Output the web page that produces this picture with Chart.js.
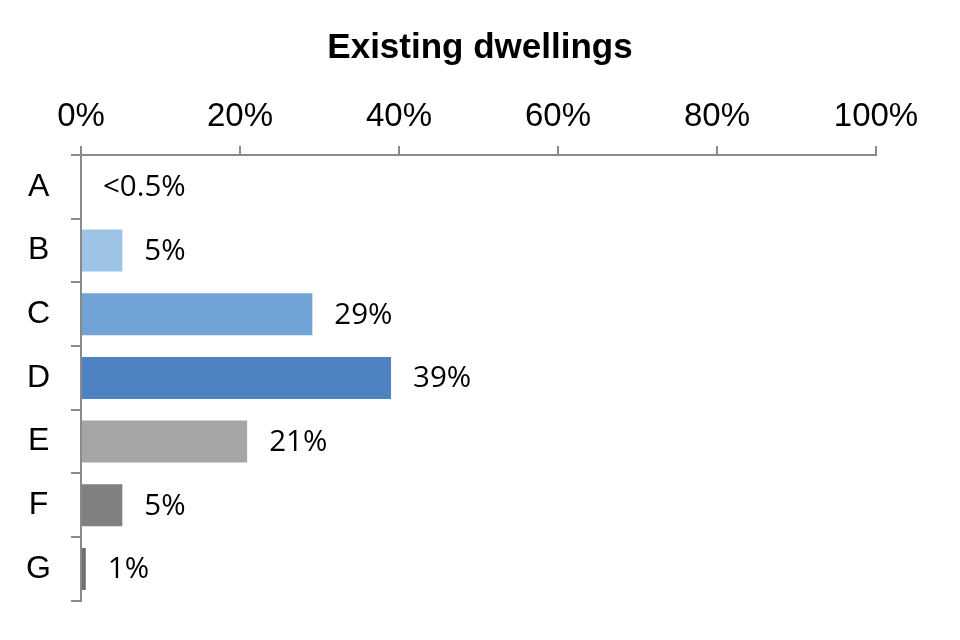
<!DOCTYPE html>
<html>
<head>
<meta charset="utf-8">
<script src="https://cdn.jsdelivr.net/npm/chart.js@4"></script>
<style>
  html, body { margin: 0; padding: 0; background: #fff; }
  #wrap { width: 960px; height: 640px; position: relative; }
</style>
</head>
<body>
<div id="wrap"><canvas id="c"></canvas></div>
<script>
const chartTitle = 'Existing dwellings';
const categories = ['A', 'B', 'C', 'D', 'E', 'F', 'G'];
const values = [0, 5.2, 29.1, 39, 20.9, 5.2, 0.6];
const valueLabels = ['<0.5%', '5%', '29%', '39%', '21%', '5%', '1%'];
const barColors = ['#c9def3', '#9dc3e6', '#71a3d7', '#4f82c3', '#a6a6a6', '#808080', '#6e6e6e'];
const xTicks = [0, 20, 40, 60, 80, 100];

const axisColor = '#8a8a8a';

const labelPlugin = {
  id: 'valueLabels',
  afterDatasetsDraw(chart) {
    const ctx = chart.ctx;
    const meta = chart.getDatasetMeta(0);
    ctx.save();
    ctx.font = '29.5px "Open Sans", sans-serif';
    ctx.fillStyle = '#000';
    ctx.textAlign = 'left';
    ctx.textBaseline = 'middle';
    meta.data.forEach((bar, i) => {
      ctx.fillText(valueLabels[i], bar.x + 22, bar.y + 1);
    });
    ctx.restore();
  }
};

const titlePlugin = {
  id: 'fixedTitle',
  afterDraw(chart) {
    const ctx = chart.ctx;
    ctx.save();
    ctx.font = 'bold 35px "Liberation Sans", Arial, sans-serif';
    ctx.fillStyle = '#000';
    ctx.textAlign = 'center';
    ctx.textBaseline = 'middle';
    ctx.fillText(chartTitle, 480, 48);
    ctx.restore();
  }
};

new Chart(document.getElementById('c'), {
  type: 'bar',
  data: {
    labels: categories,
    datasets: [{
      data: values,
      backgroundColor: barColors,
      borderWidth: 0,
      categoryPercentage: 1,
      barPercentage: 0.66
    }]
  },
  options: {
    indexAxis: 'y',
    responsive: true,
    maintainAspectRatio: false,
    animation: false,
    devicePixelRatio: 1,
    layout: { padding: { top: 0, right: 84, bottom: 38, left: 0 } },
    plugins: {
      legend: { display: false },
      title: { display: false },
      tooltip: { enabled: false }
    },
    scales: {
      x: {
        position: 'top',
        min: 0,
        max: 100,
        afterBuildTicks(scale) {
          scale.ticks = xTicks.map(v => ({ value: v }));
        },
        afterFit(scale) { scale.height = 155; },
        ticks: {
          callback: v => v + '%',
          font: { family: '"Liberation Sans", Arial, sans-serif', size: 33 },
          color: '#000',
          padding: 9,
          maxRotation: 0
        },
        grid: {
          drawOnChartArea: false,
          drawTicks: true,
          tickLength: 9,
          color: axisColor,
          lineWidth: 2
        },
        border: { display: true, color: axisColor, width: 2 }
      },
      y: {
        afterFit(scale) { scale.width = 81; },
        ticks: {
          font: { family: '"Liberation Sans", Arial, sans-serif', size: 32 },
          color: '#000',
          padding: 20,
          crossAlign: 'center'
        },
        grid: {
          offset: true,
          drawOnChartArea: false,
          drawTicks: true,
          tickLength: 10,
          color: axisColor,
          lineWidth: 2
        },
        border: { display: true, color: axisColor, width: 2 }
      }
    }
  },
  plugins: [labelPlugin, titlePlugin]
});
</script>
</body>
</html>
